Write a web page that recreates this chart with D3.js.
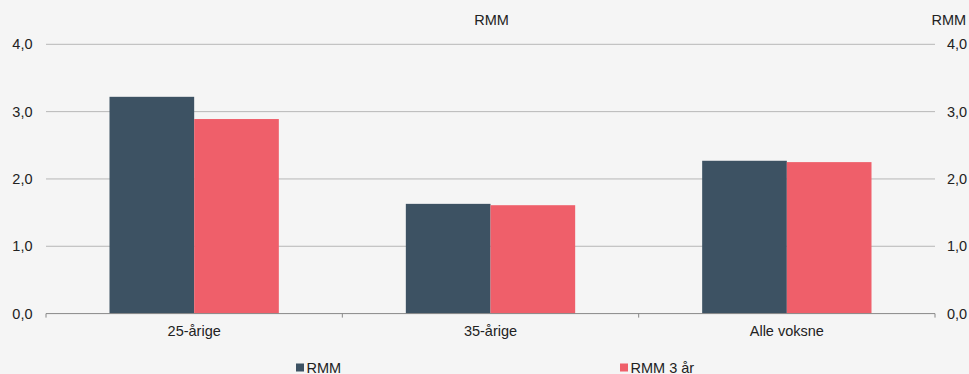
<!DOCTYPE html>
<html><head><meta charset="utf-8">
<script src="https://cdn.jsdelivr.net/npm/d3@7"></script>
<style>body{margin:0;background:#f5f5f5;}svg{display:block;}</style>
</head><body>
<script>
const categories = ["25-årige", "35-årige", "Alle voksne"];
const seriesNames = ["RMM", "RMM 3 år"];
const rmm = [3.22, 1.63, 2.27];
const rmm3 = [2.89, 1.61, 2.25];
const yTicks = [0, 1, 2, 3, 4];
const colors = ["#3d5263", "#ef5f6a"];

(function () {
const W = 969, H = 374, FS = 14.5;
const FF = "'Liberation Sans', Arial, sans-serif";
const mLeft = 46, mRight = 935, mTop = 44.3, mBottom = 313.6;
const svg = d3.select("body").append("svg").attr("width", W).attr("height", H)
  .style("font-family", FF);
svg.append("rect").attr("width", W).attr("height", H).attr("fill", "#f5f5f5");

const x = d3.scaleBand().domain(categories).range([mLeft, mRight]).paddingInner(0).paddingOuter(0);
const xs = d3.scaleBand().domain(seriesNames).range([0, x.bandwidth()]).paddingInner(0).paddingOuter(0.75);
const y = d3.scaleLinear().domain([0, 4]).range([mBottom, mTop]);
const fmt = d => d.toFixed(1).replace(".", ",");

// gridlines
svg.append("g").selectAll("line").data(yTicks.filter(d => d > 0)).join("line")
  .attr("x1", mLeft).attr("x2", mRight).attr("y1", d => y(d)).attr("y2", d => y(d))
  .attr("stroke", "#b7b7b7").attr("stroke-width", 1);

// left axis labels
const yl = d3.axisLeft(y).tickValues(yTicks).tickFormat(fmt).tickSize(0).tickPadding(13.5);
const gl = svg.append("g").attr("transform", `translate(${mLeft},0)`).call(yl);
gl.select(".domain").remove();
gl.selectAll("text").attr("font-size", FS).attr("fill", "#222").attr("font-family", FF);

const yr = d3.axisRight(y).tickValues(yTicks).tickFormat(fmt).tickSize(0).tickPadding(12);
const gr = svg.append("g").attr("transform", `translate(${mRight},0)`).call(yr);
gr.select(".domain").remove();
gr.selectAll("text").attr("font-size", FS).attr("fill", "#222").attr("font-family", FF);

// bars
const data = categories.map((c, i) => ({c, vals: [rmm[i], rmm3[i]]}));
const grp = svg.append("g").selectAll("g").data(data).join("g")
  .attr("transform", d => `translate(${x(d.c)},0)`);
grp.selectAll("rect").data(d => d.vals.map((v, j) => ({s: seriesNames[j], v, j}))).join("rect")
  .attr("x", d => xs(d.s)).attr("width", xs.bandwidth())
  .attr("y", d => y(d.v)).attr("height", d => y(0) - y(d.v))
  .attr("fill", d => colors[d.j]);

// x axis
const xa = d3.axisBottom(x).tickSize(0).tickPadding(12.5);
const gx = svg.append("g").attr("transform", `translate(0,${mBottom})`).call(xa);
gx.select(".domain").attr("stroke", "#888").attr("d", `M${mLeft},0H${mRight}`);
gx.selectAll("text").attr("font-size", FS).attr("fill", "#222").attr("font-family", FF);
svg.append("g").selectAll("line").data(d3.range(categories.length + 1)).join("line")
  .attr("x1", i => mLeft + i * x.step()).attr("x2", i => mLeft + i * x.step())
  .attr("y1", mBottom).attr("y2", mBottom + 4).attr("stroke", "#888");

// titles
svg.append("text").attr("x", 491.5).attr("y", 25).attr("text-anchor", "middle")
  .attr("font-size", FS).attr("fill", "#222").text("RMM");
svg.append("text").attr("x", 931.5).attr("y", 25)
  .attr("font-size", FS).attr("fill", "#222").text("RMM");

// legend
const legX = [296, 620];
seriesNames.forEach((s, i) => {
  svg.append("rect").attr("x", legX[i]).attr("y", 363.5).attr("width", 8).attr("height", 8).attr("fill", colors[i]);
  svg.append("text").attr("x", legX[i] + 10.5).attr("y", 372.5).attr("font-size", FS).attr("fill", "#222").text(s);
});
})();
</script>
</body></html>
